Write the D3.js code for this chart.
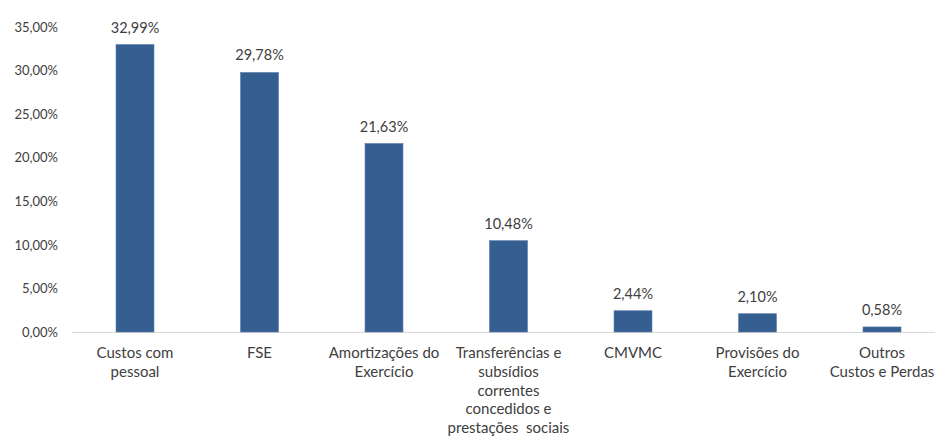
<!DOCTYPE html>
<html lang="pt">
  <head>
    <meta charset="utf-8">
    <title>Custos e Perdas</title>
    <style>
      body { margin: 0; background: #fff; }
      svg text { font-family: Lato, "Open Sans", sans-serif; fill: #404040; }
    </style>
  </head>
  <body>
    <svg width="935" height="437"></svg>
    <script src="https://d3js.org/d3.v7.min.js"></script>
    <script>
      // categorias (com quebras de linha como no original)
      var categories = [
        ["Custos com", "pessoal"],
        ["FSE"],
        ["Amortizações do", "Exercício"],
        ["Transferências e", "subsídios", "correntes", "concedidos e", "prestações  sociais"],
        ["CMVMC"],
        ["Provisões do", "Exercício"],
        ["Outros", "Custos e Perdas"]
      ];
      var values = [32.99, 29.78, 21.63, 10.48, 2.44, 2.10, 0.58];
      var yTicks = [0, 5, 10, 15, 20, 25, 30, 35];

      var fmt = v => v.toFixed(2).replace(".", ",") + "%";

      var svg = d3.select("svg");

      var x = d3.scaleBand()
        .domain(d3.range(categories.length))
        .range([72.75, 944.25])
        .paddingInner(0.695)
        .paddingOuter(0.3475);

      var y = d3.scaleLinear().domain([0, 35]).range([332, 27]);

      // eixo y (só rótulos)
      var yAxis = svg.append("g")
        .attr("transform", "translate(60,0)")
        .call(d3.axisLeft(y).tickValues(yTicks).tickSize(0).tickPadding(2).tickFormat(fmt));
      yAxis.select(".domain").remove();
      yAxis.selectAll("text").style("font-size", "13px").style("fill", "#404040");

      // linha de base
      svg.append("line")
        .attr("x1", 72).attr("x2", 935)
        .attr("y1", y(0) + 0.5).attr("y2", y(0) + 0.5)
        .attr("stroke", "#d9d9d9")
        .attr("stroke-width", 1);

      svg.append("g")
        .selectAll("rect")
        .data(values)
        .enter()
        .append("rect")
        .attr("x", (d, i) => x(i))
        .attr("y", d => y(d))
        .attr("width", x.bandwidth())
        .attr("height", d => y(0) - y(d))
        .attr("fill", "#365f91")
        .attr("stroke", "#5a7cab")
        .attr("stroke-width", 0.6);

      // rótulos de valores
      svg.append("g")
        .selectAll("text")
        .data(values)
        .enter()
        .append("text")
        .attr("x", (d, i) => x(i) + x.bandwidth() / 2)
        .attr("y", d => y(d) - 12)
        .attr("text-anchor", "middle")
        .style("font-size", "14.5px")
        .text(d => fmt(d));

      // rótulos das categorias
      var cat = svg.append("g")
        .selectAll("text")
        .data(categories)
        .enter()
        .append("text")
        .attr("text-anchor", "middle")
        .style("font-size", "15px");

      cat.selectAll("tspan")
        .data((d, i) => d.map(line => ({ line: line, i: i })))
        .enter()
        .append("tspan")
        .attr("x", d => x(d.i) + x.bandwidth() / 2)
        .attr("y", (d, j) => 358 + j * 18.8)
        .style("white-space", "pre")
        .text(d => d.line);
    </script>
  </body>
</html>
